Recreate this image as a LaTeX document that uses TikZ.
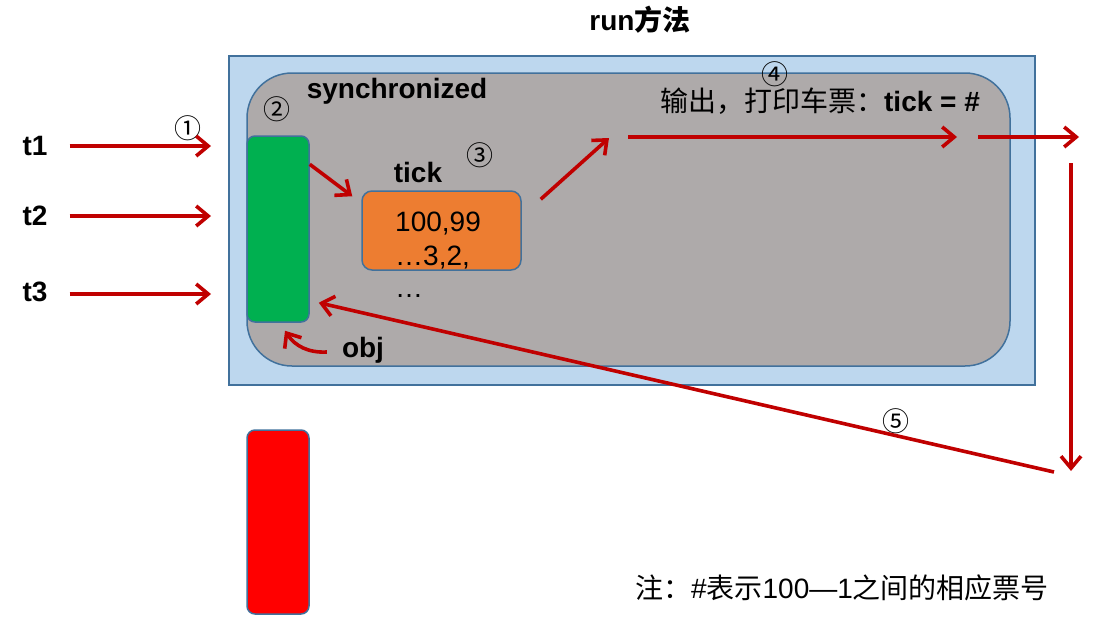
\documentclass[tikz,border=0pt]{standalone}
\usepackage{fontspec}
\setmainfont{Liberation Sans}
\newfontfamily\cjk{Noto Sans CJK SC}
\usetikzlibrary{arrows.meta}
\definecolor{runblue}{HTML}{BDD7EE}
\definecolor{edgeblue}{HTML}{41719C}
\definecolor{syncgray}{HTML}{AEAAAA}
\definecolor{lockgreen}{HTML}{00B050}
\definecolor{tickorange}{HTML}{ED7D31}
\definecolor{flowred}{HTML}{C00000}

\begin{document}
\begin{tikzpicture}[
    x=1pt, y=-1pt,
    every node/.style={font=\fontsize{28}{32}\selectfont, inner sep=2pt},
    flow/.style={draw=flowred, line width=3.6pt, -{Straight Barb[length=12pt,width=20pt]}},
    box/.style={draw=edgeblue, line width=1.5pt, rectangle},
    lbl/.style={font=\fontsize{28}{32}\selectfont\bfseries},
    num/.style={font=\fontsize{27}{30}\selectfont\cjk},
]
\useasboundingbox (0,0) rectangle (1113,622);
% frames
\node[box, fill=runblue, minimum width=806pt, minimum height=329pt] (run) at (632,220.5) {};
\node[box, fill=syncgray, rounded corners=45pt, minimum width=763pt, minimum height=293pt] (sync) at (628.5,219.5) {};
\node[lbl] (title) at (640,20) {run{\cjk 方法}};
\node[lbl] (synclbl) at (397,91) {synchronized};
% locks and counter
\node[box, fill=lockgreen, rounded corners=8pt, minimum width=62pt, minimum height=186pt] (lock) at (278,229) {};
\node[box, fill=red, rounded corners=8pt, minimum width=62pt, minimum height=184pt] (wait) at (278,522) {};
\node[box, fill=tickorange, rounded corners=10pt, minimum width=159pt, minimum height=79pt] (cnt) at (441.5,230.5) {};
\node[lbl] (ticklbl) at (418,172) {tick};
\node[anchor=west] (v1) at (393,224) {100,99};
\node[anchor=west] (v2) at (393,258) {…3,2,};
\node[anchor=west] (v3) at (393,296) {…};
\node[lbl] (obj) at (363,350) {obj};
% threads
\node[lbl] (t1) at (35,146) {t1};
\node[lbl] (t2) at (35,216) {t2};
\node[lbl] (t3) at (35,292) {t3};
\node[num] (s1) at (188,128) {①};
\node[num] (s2) at (277,109) {②};
\node[num] (s3) at (480,155) {③};
\node[num] (s4) at (775,74) {④};
\node[num] (s5) at (896,421) {⑤};
\node (out) at (820,101) {{\cjk 输出，打印车票：}\textbf{tick = \#}};
\node (note) at (842,588) {{\cjk 注：}\#{\cjk 表示}100—1{\cjk 之间的相应票号}};
% connectors
\coordinate (in1) at (211,146);
\coordinate (in2) at (211,216);
\coordinate (in3) at (211,294);
\coordinate (up4) at (609,138);
\coordinate (pa) at (628,137);
\coordinate (pb) at (957,137);
\coordinate (pc) at (978,137);
\coordinate (pd) at (1079,137);
\coordinate (da) at (1071,163);
\coordinate (db) at (1071,471);
\coordinate (back) at (1054,472);
\draw[flow] ([xshift=20pt]t1.east |- in1) -- (in1);
\draw[flow] ([xshift=20pt]t2.east |- in2) -- (in2);
\draw[flow] ([xshift=20pt]t3.east |- in3) -- (in3);
\draw[flow] ([yshift=-29pt]lock.north east) -- ([xshift=-9pt,yshift=-6pt]cnt.north west);
\draw[flow] ([xshift=19pt,yshift=-9pt]cnt.north east) -- (up4);
\draw[flow] (pa) -- (pb);
\draw[flow] (pc) -- (pd);
\draw[flow] (da) -- (db);
\draw[flow] (back) -- ([xshift=9pt,yshift=20pt]lock.south east);
\draw[flow] ([xshift=-13pt,yshift=-2pt]obj.west) to[bend left=30] ([xshift=7pt,yshift=-8pt]lock.south);
\end{tikzpicture}
\end{document}
